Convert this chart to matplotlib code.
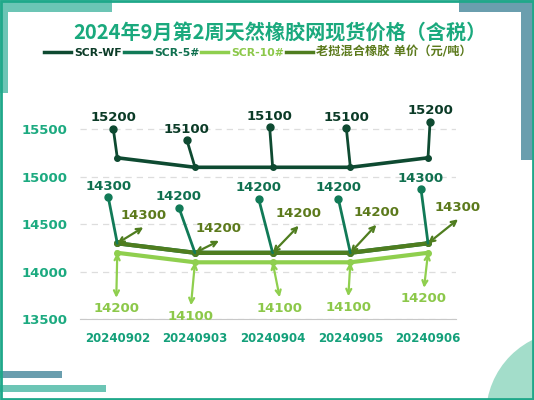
import matplotlib.pyplot as plt
import numpy as np
from matplotlib.patches import Rectangle, Ellipse
from matplotlib.transforms import ScaledTranslation

# data
dates = ['20240902', '20240903', '20240904', '20240905', '20240906']
scr_wf = [15200, 15100, 15100, 15100, 15200]
scr_5 = [14300, 14200, 14200, 14200, 14300]
scr_10 = [14200, 14100, 14100, 14100, 14200]
laos_mix = [14300, 14200, 14200, 14200, 14300]
yticks = [13500, 14000, 14500, 15000, 15500]

names = ['SCR-WF', 'SCR-5#', 'SCR-10#', '老挝混合橡胶 单价（元/吨）']
colors = ['#0e4a31', '#117a57', '#8fcf4e', '#4f7d1f']
txt_colors = ['#0b3b27', '#10704f', '#8cc84a', '#5c7a1c']

# label callout offsets in pixels (dx, dy)
off_wf = [(-4, 29), (-8, 27), (-3, 40), (-4, 39), (2, 36)]
off_5 = [(-9, 46), (-16, 45), (-14, 54), (-12, 54), (-7, 54)]
off_10 = [(-1, -45), (-4, -43), (7, -35), (-2, -34), (-4, -35)]
off_lx = [(26, 16), (24, 12), (26, 27), (26, 28), (30, 24)]

W, H = 534, 400
fig = plt.figure(figsize=(W / 100, H / 100), dpi=100)
fig.patch.set_facecolor('white')


def px_rect(x0, y0, x1, y1, color):
    fig.add_artist(Rectangle((x0 / W, 1 - y1 / H), (x1 - x0) / W, (y1 - y0) / H,
                             transform=fig.transFigure, color=color, lw=0, zorder=0))


# decorations
px_rect(0, 0, 112, 12, '#6cc5b5')
px_rect(0, 0, 8, 93, '#6cc5b5')
px_rect(459, 0, 534, 12, '#6a9eae')
px_rect(521, 0, 534, 160, '#6a9eae')
px_rect(0, 371, 62, 378, '#6a9eae')
px_rect(0, 385, 106, 392, '#6cc5b5')
fig.add_artist(Ellipse((570 / W, 1 - 415 / H), 2 * 84 / W, 2 * 84 / H,
                       transform=fig.transFigure, color='#a3ddca', lw=0, zorder=0))
fig.add_artist(Rectangle((0.002, 0.003), 0.996, 0.994, transform=fig.transFigure,
                         fill=False, ec='#1fa88a', lw=2, zorder=5))

ax = fig.add_axes([80 / W, 80.7 / H, 376 / W, 237.5 / H])
ax.set_facecolor('none')
x = np.arange(len(dates))

ax.plot(x, scr_10, color=colors[2], lw=3, zorder=2)
ax.plot(x, scr_5, color=colors[1], lw=3, zorder=3)
ax.plot(x, laos_mix, color=colors[3], lw=3, zorder=4)
ax.plot(x, scr_wf, color=colors[0], lw=2.6, zorder=4)
for s, c in [(scr_wf, 0), (scr_5, 1), (laos_mix, 3), (scr_10, 2)]:
    ax.plot(x, s, 'o', color=colors[c], ms=4, zorder=5)

num_font = dict(family='DejaVu Sans', fontweight='bold', fontsize=9.5)


def callout(vals, offs, col, tcol, dot, arrow, text_gap):
    for i, v in enumerate(vals):
        dx, dy = offs[i]
        if arrow:
            props = dict(arrowstyle='<->', color=col, lw=1.6,
                         shrinkA=0, shrinkB=0, mutation_scale=9)
        else:
            props = dict(arrowstyle='-', color=col, lw=2, shrinkA=0, shrinkB=0)
        ax.annotate('', xy=(i, v), xytext=(dx, dy), textcoords='offset pixels',
                    arrowprops=props, zorder=6, annotation_clip=False)
        if dot:
            ax.plot([i], [v], 'o', color=col, ms=5, zorder=7, clip_on=False,
                    transform=ax.transData + ScaledTranslation(
                        dx / 100, dy / 100, fig.dpi_scale_trans))
        ax.annotate(f'{v}', xy=(i, v), xytext=(dx, dy + text_gap),
                    textcoords='offset pixels', ha='center', va='center',
                    color=tcol, annotation_clip=False, zorder=8, **num_font)


callout(scr_wf, off_wf, colors[0], txt_colors[0], True, False, 11)
callout(scr_5, off_5, colors[1], txt_colors[1], True, False, 11)
callout(scr_10, off_10, colors[2], txt_colors[2], False, True, -11)
callout(laos_mix, off_lx, colors[3], txt_colors[3], False, True, 12)

ax.set_xlim(-0.48, 4.36)
ax.set_ylim(13500, 16000)
ax.set_yticks(yticks)
ax.set_xticks(x)
ax.set_xticklabels(dates)
ax.tick_params(axis='both', length=0)
ax.tick_params(axis='y', pad=9, labelcolor='#1caa80')
ax.tick_params(axis='x', pad=9, labelcolor='#14a07a')
for lab in ax.get_yticklabels():
    lab.set_fontweight('bold')
    lab.set_fontsize(9.5)
for lab in ax.get_xticklabels():
    lab.set_fontweight('bold')
    lab.set_fontsize(8.5)
ax.grid(axis='y', ls=(0, (5, 4)), color='#dddddd', lw=0.9)
for sp in ['top', 'right', 'left']:
    ax.spines[sp].set_visible(False)
ax.spines['bottom'].set_color('#c8c8c8')

fig.text(280 / W, 1 - 33 / H, '2024年9月第2周天然橡胶网现货价格（含税）',
         ha='center', va='center', fontsize=14.5, fontweight='bold',
         color='#1aa97d', family=['Noto Sans CJK SC', 'DejaVu Sans'])

handles = [plt.Line2D([], [], color=c, lw=2.5) for c in colors]
leg = fig.legend(handles, names, loc='center', bbox_to_anchor=(258 / W, 1 - 52 / H),
                 ncol=4, frameon=False, handlelength=2.5, columnspacing=0.15,
                 handletextpad=0.3, labelcolor=txt_colors,
                 prop=dict(family=['DejaVu Sans', 'Noto Sans CJK SC'],
                           weight='bold', size=7.8))
leg.get_texts()[3].set_fontsize(8.8)

fig.savefig('out.png', dpi=100, facecolor='white')
